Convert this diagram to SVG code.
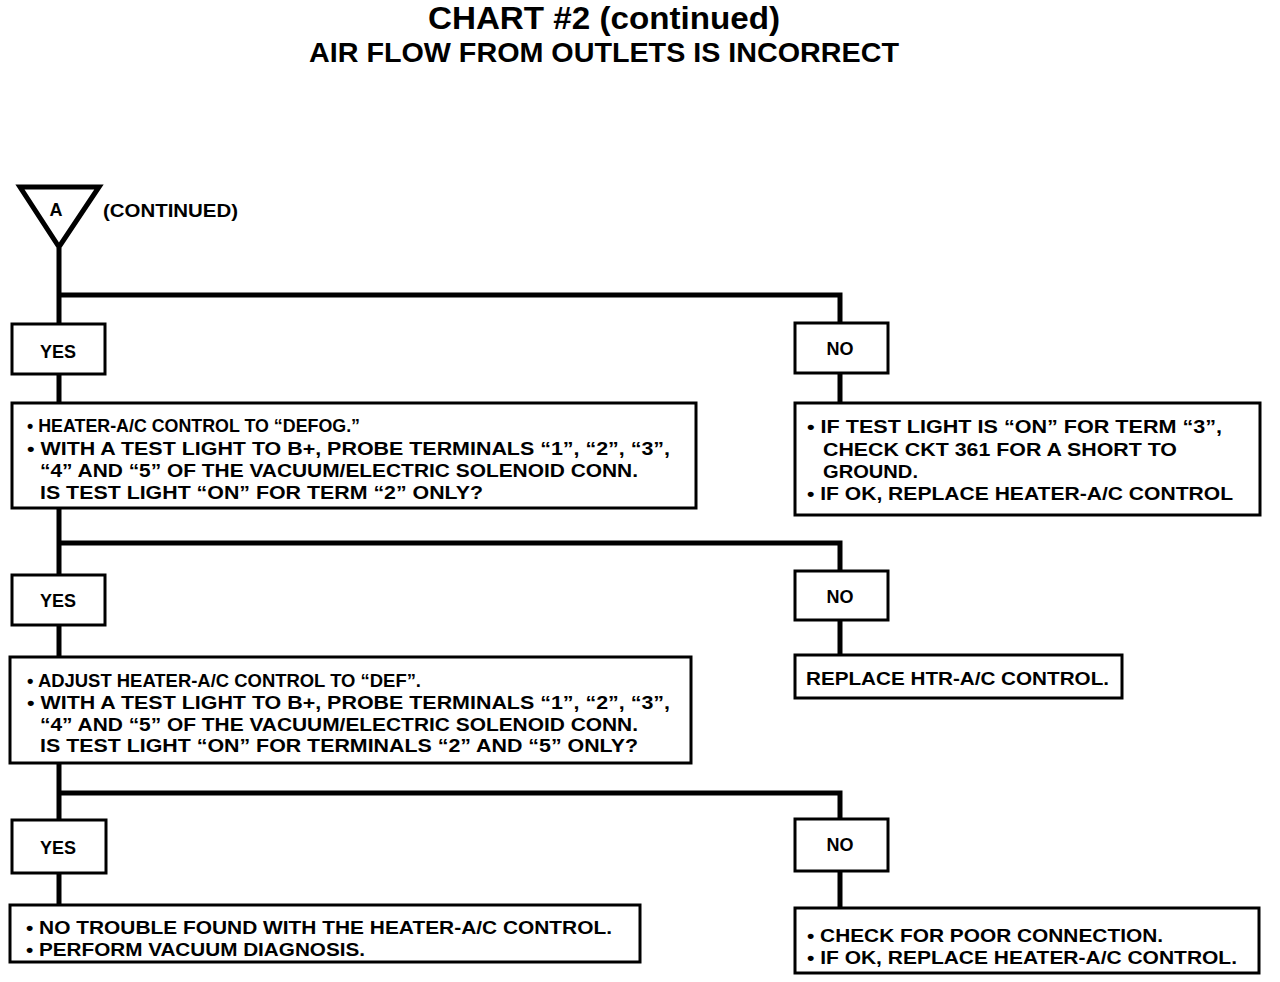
<svg xmlns="http://www.w3.org/2000/svg" width="1280" height="982" viewBox="0 0 1280 982">
<style>
.box{fill:#fff;stroke:#000;stroke-width:3}
.c{fill:none;stroke:#000;stroke-width:5}
text{font-family:"Liberation Sans",Arial,sans-serif;font-weight:bold;fill:#000}
.t{font-size:18px}
.w{font-size:19px}
.y{font-size:18px}
.m{text-anchor:middle}
</style>
<rect width="1280" height="982" fill="#fff"/>
<g id="title">
<text x="604" y="29" class="m" font-size="32" textLength="352" lengthAdjust="spacingAndGlyphs">CHART #2 (continued)</text>
<text x="604" y="62" class="m" font-size="28" textLength="590" lengthAdjust="spacingAndGlyphs">AIR FLOW FROM OUTLETS IS INCORRECT</text>
</g>
<g id="connectors">
<path class="c" d="M59 248V403M59 295H840V323M840 373V403"/>
<path class="c" d="M59 508V575M59 543H840V571M840 620V655"/>
<path class="c" d="M59 625V657"/>
<path class="c" d="M59 763V820M59 793H840V819M840 871V908"/>
<path class="c" d="M59 873V905"/>
</g>
<g id="start">
<polygon points="20,187 99,187 59,247" fill="#fff" stroke="#000" stroke-width="5" stroke-linejoin="miter"/>
<text x="56" y="216" class="m" font-size="18">A</text>
<text x="103" y="217" font-size="18" textLength="135" lengthAdjust="spacingAndGlyphs">(CONTINUED)</text>
</g>
<g id="yes1"><rect class="box" x="12" y="324" width="93" height="50"/><text x="58" y="358" class="m y">YES</text></g>
<g id="no1"><rect class="box" x="795" y="323" width="93" height="50"/><text x="840" y="355" class="m y">NO</text></g>
<g id="q1"><rect class="box" x="12" y="403" width="684" height="105"/>
<text class="t" x="27" y="432" textLength="333" lengthAdjust="spacingAndGlyphs">• HEATER-A/C CONTROL TO “DEFOG.”</text>
<text class="t" x="27" y="455" textLength="643" lengthAdjust="spacingAndGlyphs">• WITH A TEST LIGHT TO B+, PROBE TERMINALS “1”, “2”, “3”,</text>
<text class="t" x="40" y="477" textLength="598" lengthAdjust="spacingAndGlyphs">“4” AND “5” OF THE VACUUM/ELECTRIC SOLENOID CONN.</text>
<text class="t" x="40" y="499" textLength="443" lengthAdjust="spacingAndGlyphs">IS TEST LIGHT “ON” FOR TERM “2” ONLY?</text>
</g>
<g id="r1"><rect class="box" x="795" y="403" width="465" height="112"/>
<text class="w" x="807" y="433" textLength="415" lengthAdjust="spacingAndGlyphs">• IF TEST LIGHT IS “ON” FOR TERM “3”,</text>
<text class="w" x="823" y="456" textLength="354" lengthAdjust="spacingAndGlyphs">CHECK CKT 361 FOR A SHORT TO</text>
<text class="w" x="823" y="478" textLength="95" lengthAdjust="spacingAndGlyphs">GROUND.</text>
<text class="w" x="807" y="500" textLength="426" lengthAdjust="spacingAndGlyphs">• IF OK, REPLACE HEATER-A/C CONTROL</text>
</g>
<g id="yes2"><rect class="box" x="12" y="575" width="93" height="50"/><text x="58" y="607" class="m y">YES</text></g>
<g id="no2"><rect class="box" x="795" y="571" width="93" height="49"/><text x="840" y="603" class="m y">NO</text></g>
<g id="r2"><rect class="box" x="795" y="655" width="327" height="43"/>
<text class="w" x="806" y="685" textLength="303" lengthAdjust="spacingAndGlyphs">REPLACE HTR-A/C CONTROL.</text>
</g>
<g id="q2"><rect class="box" x="10" y="657" width="681" height="106"/>
<text class="t" x="27" y="687" textLength="394" lengthAdjust="spacingAndGlyphs">• ADJUST HEATER-A/C CONTROL TO “DEF”.</text>
<text class="t" x="27" y="709" textLength="643" lengthAdjust="spacingAndGlyphs">• WITH A TEST LIGHT TO B+, PROBE TERMINALS “1”, “2”, “3”,</text>
<text class="t" x="40" y="731" textLength="598" lengthAdjust="spacingAndGlyphs">“4” AND “5” OF THE VACUUM/ELECTRIC SOLENOID CONN.</text>
<text class="t" x="40" y="752" textLength="598" lengthAdjust="spacingAndGlyphs">IS TEST LIGHT “ON” FOR TERMINALS “2” AND “5” ONLY?</text>
</g>
<g id="yes3"><rect class="box" x="12" y="820" width="94" height="53"/><text x="58" y="854" class="m y">YES</text></g>
<g id="no3"><rect class="box" x="795" y="819" width="93" height="52"/><text x="840" y="851" class="m y">NO</text></g>
<g id="r3a"><rect class="box" x="10" y="905" width="630" height="57"/>
<text class="t" x="26" y="934" textLength="586" lengthAdjust="spacingAndGlyphs">• NO TROUBLE FOUND WITH THE HEATER-A/C CONTROL.</text>
<text class="t" x="26" y="956" textLength="339" lengthAdjust="spacingAndGlyphs">• PERFORM VACUUM DIAGNOSIS.</text>
</g>
<g id="r3b"><rect class="box" x="795" y="908" width="464" height="65"/>
<text class="w" x="807" y="942" textLength="356" lengthAdjust="spacingAndGlyphs">• CHECK FOR POOR CONNECTION.</text>
<text class="w" x="807" y="964" textLength="430" lengthAdjust="spacingAndGlyphs">• IF OK, REPLACE HEATER-A/C CONTROL.</text>
</g>
</svg>
